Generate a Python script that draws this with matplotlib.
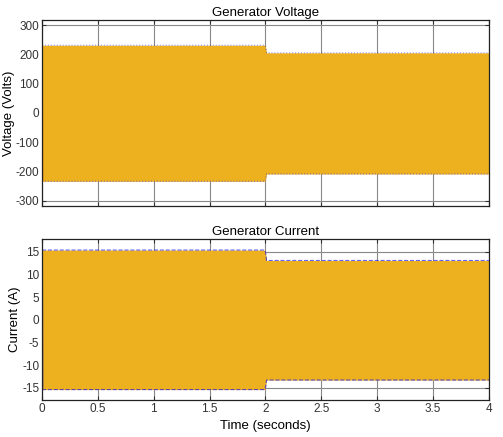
import matplotlib
matplotlib.use('Agg')
import matplotlib.pyplot as plt
import numpy as np

plt.rcParams['font.family'] = ['Liberation Sans', 'DejaVu Sans']
plt.rcParams['axes.unicode_minus'] = False

# envelope of the generator signals (peak values)
t_env = [0.0, 0.01, 1.995, 2.0, 2.01, 4.0]
volt_hi = [232, 232, 232, 228, 206, 206]
volt_lo = [-234, -234, -234, -230, -209, -209]
curr_hi = [15.4, 15.4, 15.4, 15.0, 13.1, 13.1]
curr_lo = [-15.4, -15.4, -15.4, -15.0, -13.3, -13.3]

# start-up transient
t_start = [0.0, 0.002, 0.004, 0.006]
curr_start = [0.0, -17.7, 15.4, -15.0]
volt_start = [0.0, -200, 230, -230]

orange = '#EDB120'
blue = '#0000FF'

fig = plt.figure(figsize=(5.03, 4.37), dpi=100)
ax1 = fig.add_axes([0.0835, 0.529, 0.8885, 0.425])
ax2 = fig.add_axes([0.0835, 0.0847, 0.8885, 0.368])

for ax in (ax1, ax2):
    ax.set_xlim(0, 4)
    ax.set_xticks(np.arange(0, 4.01, 0.5))
    ax.grid(True, color='#888888', linewidth=0.8)
    ax.set_axisbelow(True)
    ax.tick_params(direction='in', length=3, pad=2, labelsize=8.5, colors='#333333',
                   top=True, right=True)
    for s in ax.spines.values():
        s.set_color('#222222')
        s.set_linewidth(0.9)

ax1.plot(t_start, volt_start, color='#D95319', linewidth=0.8)
ax1.plot(t_env, volt_hi, color=blue, linewidth=0.8, alpha=0.4, linestyle=':')
ax1.plot(t_env, volt_lo, color=blue, linewidth=0.8, alpha=0.4, linestyle=':')
ax1.fill_between(t_env, volt_lo, volt_hi, color=orange, linewidth=0)
ax1.set_ylim(-318, 318)
ax1.set_yticks(range(-300, 301, 100))
ax1.set_xticklabels([])
ax1.set_ylabel('Voltage (Volts)', fontsize=9.5, labelpad=0)
ax1.set_title('Generator Voltage', fontsize=9.5, pad=3)

ax2.plot(t_start, curr_start, color=blue, linewidth=0.8)
ax2.plot(t_env, curr_hi, color=blue, linewidth=0.8, alpha=0.6, linestyle='--')
ax2.plot(t_env, curr_lo, color=blue, linewidth=0.8, alpha=0.6, linestyle='--')
ax2.fill_between(t_env, curr_lo, curr_hi, color=orange, linewidth=0)
ax2.set_ylim(-17.7, 17.8)
ax2.set_yticks(range(-15, 16, 5))
ax2.set_xticklabels(['0', '0.5', '1', '1.5', '2', '2.5', '3', '3.5', '4'])
ax2.set_ylabel('Current (A)', fontsize=9.5, labelpad=1)
ax2.set_xlabel('Time (seconds)', fontsize=9.5, labelpad=4)
ax2.set_title('Generator Current', fontsize=9.5, pad=3)

fig.savefig('out.png', dpi=100)
